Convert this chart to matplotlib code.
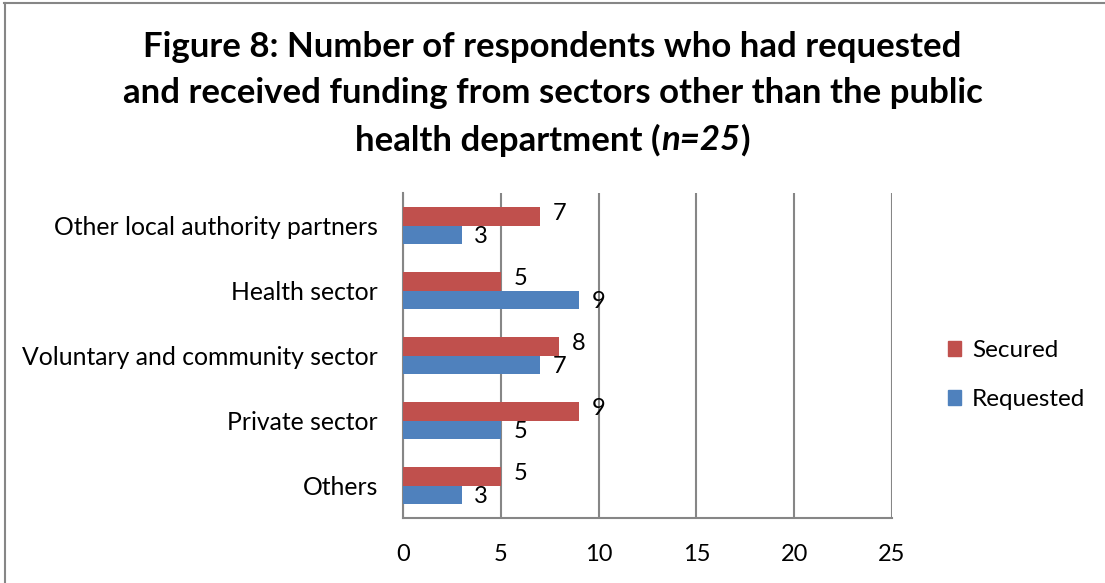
import numpy as np
import matplotlib as mpl
import matplotlib.pyplot as plt
from matplotlib.lines import Line2D
import matplotlib.patches as mpatches

mpl.rcParams["font.family"] = ["Lato", "DejaVu Sans"]

# Funding sources, top to bottom as drawn
sectors = ["Other local authority partners", "Health sector",
           "Voluntary and community sector", "Private sector", "Others"]
secured = [7, 5, 8, 9, 5]
requested = [3, 9, 7, 5, 3]

RED = "#C0504D"
BLUE = "#4F81BD"
GRID = "#868686"
W, H = 1105, 583

fig = plt.figure(figsize=(W / 100, H / 100), dpi=100)
ax = fig.add_axes([403 / W, 1 - 518 / H, 489 / W, 325 / H])

y = np.arange(len(sectors))[::-1].astype(float)
h = 0.28
ax.barh(y + h / 2, secured, height=h, color=RED, label="Secured", zorder=3)
ax.barh(y - h / 2, requested, height=h, color=BLUE, label="Requested", zorder=3)

# value labels just past each bar end
for yy, v in zip(y + h / 2, secured):
    ax.text(v + 0.65, yy + 0.05, str(v), va="center", ha="left", fontsize=17)
for yy, v in zip(y - h / 2, requested):
    ax.text(v + 0.65, yy - 0.03, str(v), va="center", ha="left", fontsize=17)

ax.set_xlim(0, 25)
ax.set_ylim(-0.5, len(sectors) - 0.5)
ax.set_xticks(range(0, 26, 5))
ax.set_yticks(y)
ax.set_yticklabels(sectors)
ax.tick_params(axis="both", length=0, labelsize=17)
ax.tick_params(axis="y", labelsize=17.8)
ax.tick_params(axis="x", pad=19)
ax.tick_params(axis="y", pad=18)
ax.xaxis.grid(True, color=GRID, linewidth=1.5, zorder=0)
ax.spines["top"].set_visible(False)
ax.spines["right"].set_visible(False)
for s in ("left", "bottom"):
    ax.spines[s].set_color(GRID)
    ax.spines[s].set_linewidth(1.5)

# title, one line at a time; last line has bold italic "n=25"
tkw = dict(ha="center", va="center", fontsize=25, fontweight="bold")
fig.text(0.5, 1 - 47 / H, "Figure 8: Number of respondents who had requested", **tkw)
fig.text(0.5, 1 - 93 / H, "and received funding from sectors other than the public", **tkw)

renderer = fig.canvas.get_renderer()
parts = [("health department (", "normal"), ("n=25", "italic"), (")", "normal")]
pieces = []
for txt, style in parts:
    t = fig.text(0, 1 - 140 / H, txt, ha="left", va="center", fontsize=25,
                 fontweight="bold", fontstyle=style)
    pieces.append(t)
widths = [t.get_window_extent(renderer).width for t in pieces]
x0 = (W - sum(widths)) / 2
for t, w in zip(pieces, widths):
    t.set_x(x0 / W)
    x0 += w

handles = [mpatches.Patch(color=RED, label="Secured"),
           mpatches.Patch(color=BLUE, label="Requested")]
fig.legend(handles=handles, loc="center left", bbox_to_anchor=(926 / W, 1 - 375 / H),
           frameon=False, fontsize=17.5, handlelength=0.55, handleheight=0.55,
           handletextpad=0.45, labelspacing=1.15)

# outer chart frame (only top and left edges are visible)
fig.add_artist(Line2D([0.004, 1], [1 - 3 / H, 1 - 3 / H], color=GRID, lw=1.5,
                      transform=fig.transFigure))
fig.add_artist(Line2D([4.5 / W, 4.5 / W], [0, 1 - 3 / H], color=GRID, lw=1.5,
                      transform=fig.transFigure))

fig.savefig("out.png", dpi=100)
